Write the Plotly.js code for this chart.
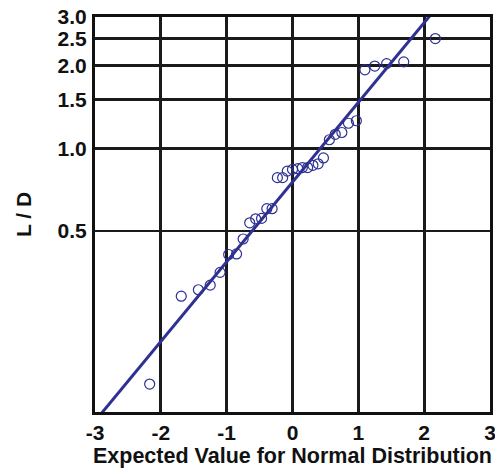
<!DOCTYPE html>
<html>
<head>
<meta charset="utf-8">
<script src="https://cdn.plot.ly/plotly-3.0.1.min.js"></script>
<style>
html,body{margin:0;padding:0;background:#fff;}
#chart{width:495px;height:473px;}
</style>
</head>
<body>
<div id="chart"></div>
<script>
// Normal scores (expected value for normal distribution)
var expectedValues = [-2.17, -1.69, -1.43, -1.25, -1.10, -0.97, -0.85, -0.75, -0.65, -0.56, -0.47, -0.39, -0.31, -0.23, -0.15, -0.08, 0.00,
                      0.08, 0.15, 0.23, 0.31, 0.39, 0.47, 0.56, 0.65, 0.75, 0.85, 0.97, 1.10, 1.25, 1.43, 1.69, 2.17];
// Observed L / D values
var ldValues = [0.139, 0.290, 0.306, 0.318, 0.354, 0.411, 0.413, 0.468, 0.536, 0.554, 0.556, 0.603, 0.603, 0.782, 0.782, 0.826, 0.838,
                0.843, 0.851, 0.851, 0.867, 0.878, 0.922, 1.074, 1.124, 1.141, 1.233, 1.259, 1.928, 1.990, 2.031, 2.061, 2.505];
// Fitted line end points
var fitX = [-3, 3];
var fitY = [0.1019, 5.57];
// Axis ticks
var xTicks = [-3, -2, -1, 0, 1, 2, 3];
var yTicks = [0.5, 1.0, 1.5, 2.0, 2.5, 3.0];
var yTickLabels = ['0.5', '1.0', '1.5', '2.0', '2.5', '3.0'];

var navy = '#2e3192';
var fontFam = '"Liberation Sans", Arial, Helvetica, sans-serif';

var traces = [
  {
    x: fitX, y: fitY, type: 'scatter', mode: 'lines',
    line: {color: navy, width: 3}, hoverinfo: 'skip', showlegend: false
  },
  {
    x: expectedValues, y: ldValues, type: 'scatter', mode: 'markers',
    marker: {symbol: 'circle-open', size: 10, color: navy, line: {width: 1.2, color: navy}},
    showlegend: false, cliponaxis: false
  }
];

var layout = {
  width: 495, height: 473,
  margin: {l: 95, r: 5, t: 17, b: 61},
  paper_bgcolor: '#fff', plot_bgcolor: '#fff',
  font: {family: fontFam, color: '#111', size: 21},
  xaxis: {
    range: [-3.0005, 3.0005],
    tickvals: xTicks,
    ticktext: xTicks.map(function(v){ return '<b>' + v + '</b>'; }),
    tickfont: {family: fontFam, size: 21, color: '#111'},
    ticklabeloverflow: 'allow',
    showgrid: true, gridcolor: '#1a1a1a', gridwidth: 2.8,
    zeroline: false,
    showline: true, linecolor: '#111', linewidth: 3, mirror: true,
    ticks: '', ticklabelstandoff: 0,
    title: {text: '<b>Expected Value for Normal Distribution</b>', font: {family: fontFam, size: 21.5, color: '#111'}, standoff: 0}
  },
  yaxis: {
    type: 'log',
    range: [Math.log10(0.11), Math.log10(3.0)],
    tickvals: yTicks,
    ticktext: yTickLabels.map(function(s){ return '<b>' + s + '</b>'; }),
    tickfont: {family: fontFam, size: 21, color: '#111'},
    showgrid: true, gridcolor: '#1a1a1a', gridwidth: 2.8,
    zeroline: false,
    showline: true, linecolor: '#111', linewidth: 3, mirror: true,
    ticks: '', ticklabelstandoff: 1,
    title: {text: '<b>L / D</b>', font: {family: fontFam, size: 21, color: '#111'}, standoff: 21}
  }
};

Plotly.newPlot('chart', traces, layout, {displayModeBar: false, staticPlot: true});
</script>
</body>
</html>
